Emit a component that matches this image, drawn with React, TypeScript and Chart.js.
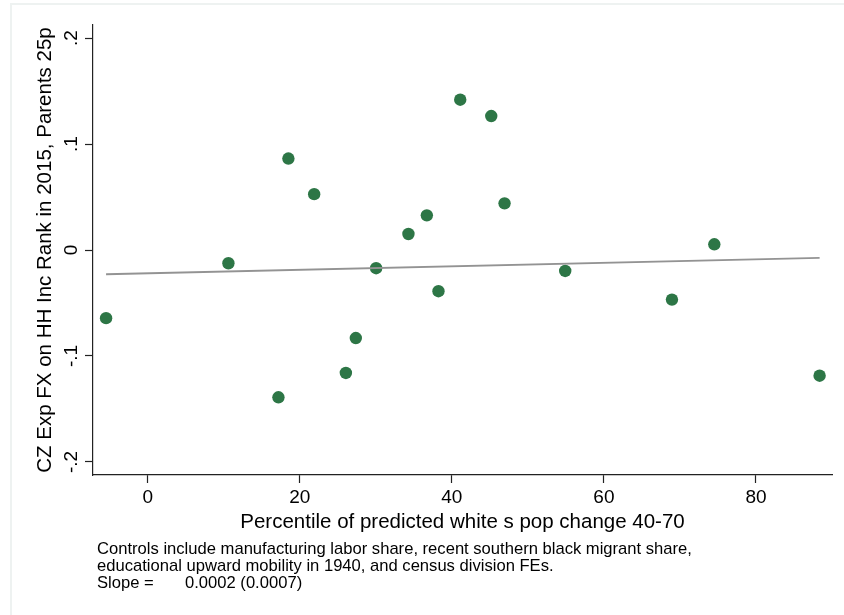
import React, { useEffect, useRef } from "react";
import { Chart, registerables } from "chart.js";

Chart.register(...registerables);

// Percentile of predicted white population change, 1940-70
const pctWhiteChange = [
  -5.48, 10.61, 17.19, 18.5, 21.89, 26.06, 27.37, 30.04, 34.29, 36.71, 38.24,
  41.1, 45.18, 46.93, 54.91, 68.95, 74.52, 88.37,
];
// Commuting-zone exposure effect on household income rank (parents at 25th pct)
const czExposureFx = [
  -0.0643, -0.0125, -0.139, 0.0863, 0.0527, -0.116, -0.0831, -0.0172, 0.0151,
  0.0327, -0.0389, 0.1418, 0.1264, 0.044, -0.0198, -0.0468, 0.0054, -0.1186,
];
// Fitted line end points
const fitLineX = [-5.48, 88.37];
const fitLineY = [-0.0229, -0.0075];

const xTicks = [0, 20, 40, 60, 80];
const yTicks = [-0.2, -0.1, 0, 0.1, 0.2];

const xTitle = "Percentile of predicted white s pop change 40-70";
const yTitle = "CZ Exp FX on HH Inc Rank in 2015, Parents 25p";
const noteLines = [
  "Controls include manufacturing labor share, recent southern black migrant share,",
  "educational upward mobility in 1940, and census division FEs.",
];
const slopeLabel = "Slope =";
const slopeValue = "0.0002 (0.0007)";

const FONT = "'Liberation Sans', Arial, Helvetica, sans-serif";

const fmtY = (v: number) => {
  if (Math.abs(v) < 1e-9) return "0";
  return String(Math.round(v * 10) / 10).replace("0.", ".");
};

const notesPlugin = {
  id: "notes",
  afterDraw(chart: any) {
    const { ctx, chartArea } = chart;
    ctx.save();
    ctx.font = `16.6px ${FONT}`;
    ctx.fillStyle = "#000";
    ctx.textBaseline = "alphabetic";
    ctx.textAlign = "left";
    const x0 = chartArea.left + 4;
    const base = chartArea.bottom + 79;
    const step = 17;
    noteLines.forEach((line, i) => ctx.fillText(line, x0, base + i * step));
    const yLast = base + noteLines.length * step;
    ctx.fillText(slopeLabel, x0, yLast);
    ctx.fillText(slopeValue, x0 + 88, yLast);
    ctx.restore();
  },
};

export default function App() {
  const canvasRef = useRef<HTMLCanvasElement | null>(null);

  useEffect(() => {
    const canvas = canvasRef.current;
    if (!canvas) return;

    const points = pctWhiteChange.map((x, i) => ({ x, y: czExposureFx[i] }));
    const fit = fitLineX.map((x, i) => ({ x, y: fitLineY[i] }));

    const chart = new Chart(canvas, {
      type: "scatter",
      data: {
        datasets: [
          {
            type: "line",
            data: fit,
            borderColor: "#939393",
            borderWidth: 1.8,
            pointRadius: 0,
            fill: false,
            order: 0,
          } as any,
          {
            data: points,
            backgroundColor: "#2d7646",
            borderWidth: 0,
            pointRadius: 6.2,
            pointHoverRadius: 6.2,
            order: 1,
          },
        ],
      },
      options: {
        animation: false,
        responsive: false,
        devicePixelRatio: 1,
        events: [],
        layout: { padding: { top: 25, right: 12, left: 0, bottom: 0 } },
        plugins: {
          legend: { display: false },
          tooltip: { enabled: false },
        },
        scales: {
          x: {
            type: "linear",
            min: -7.2,
            max: 90,
            afterBuildTicks: (s: any) => {
              s.ticks = xTicks.map((v) => ({ value: v }));
            },
            afterFit: (s: any) => {
              s.height = 140;
            },
            ticks: {
              color: "#000",
              padding: 3,
              maxRotation: 0,
              autoSkip: false,
              font: { family: FONT, size: 19 },
              callback: (v: any) => String(v),
            },
            grid: {
              display: true,
              drawOnChartArea: false,
              drawTicks: true,
              tickLength: 8,
              tickColor: "#222",
              tickWidth: 1.2,
            },
            border: { display: true, color: "#222", width: 1.2 },
            title: {
              display: true,
              text: xTitle,
              color: "#000",
              font: { family: FONT, size: 20.5 },
              padding: { top: 0, bottom: 80.7 },
            },
          },
          y: {
            type: "linear",
            min: -0.2123,
            max: 0.2123,
            afterBuildTicks: (s: any) => {
              s.ticks = yTicks.map((v) => ({ value: v }));
            },
            afterFit: (s: any) => {
              s.width = 93;
            },
            ticks: {
              color: "#000",
              padding: 2,
              minRotation: 90,
              maxRotation: 90,
              crossAlign: "center",
              autoSkip: false,
              font: { family: FONT, size: 19 },
              callback: (v: any) => fmtY(Number(v)),
            },
            grid: {
              display: true,
              drawOnChartArea: false,
              drawTicks: true,
              tickLength: 8,
              tickColor: "#222",
              tickWidth: 1.2,
            },
            border: { display: true, color: "#222", width: 1.2 },
            title: {
              display: true,
              text: yTitle,
              color: "#000",
              font: { family: FONT, size: 20.5 },
              padding: { top: 32.7, bottom: 0 },
            },
          },
        },
      },
      plugins: [notesPlugin],
    });

    return () => chart.destroy();
  }, []);

  return (
    <div
      style={{
        position: "fixed",
        left: 0,
        top: 0,
        width: 844,
        height: 615,
        background: "#fff",
        overflow: "hidden",
      }}
    >
      <div
        style={{
          position: "absolute",
          left: 10,
          top: 3,
          right: -4,
          bottom: -4,
          borderLeft: "2px solid #eef2f1",
          borderTop: "2px solid #eef2f1",
        }}
      />
      <canvas
        ref={canvasRef}
        width={844}
        height={615}
        style={{ position: "absolute", left: 0, top: 0, width: 844, height: 615 }}
      />
    </div>
  );
}
